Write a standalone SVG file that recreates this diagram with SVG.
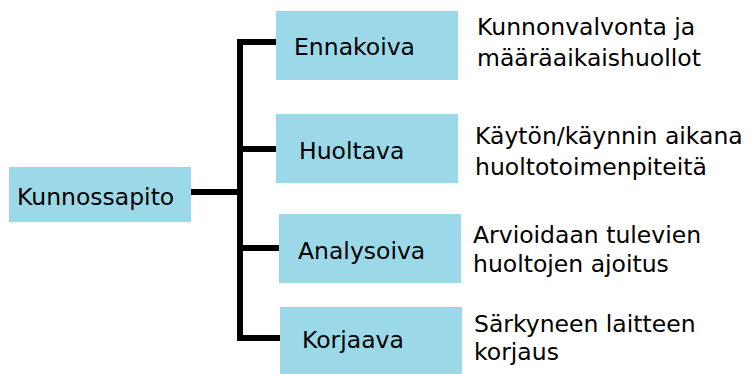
<svg xmlns="http://www.w3.org/2000/svg" width="749" height="374" viewBox="0 0 749 374">
<style>
.box{fill:#9bd9e9;}
.t{font-family:"DejaVu Sans","Liberation Sans",sans-serif;font-size:23.5px;fill:#000;}
.c{fill:none;stroke:#000;stroke-width:6;stroke-linecap:round;stroke-linejoin:miter;}
</style>
<rect width="749" height="374" fill="#fff"/>
<g id="connectors">
<path class="c" d="M191,192 H240"/>
<path class="c" d="M280,42 H240 V338 H285"/>
<path class="c" d="M240,149 H279"/>
<path class="c" d="M240,248 H282"/>
</g>
<g id="kunnossapito"><rect class="box" x="9" y="167" width="182" height="55"/><text class="t" x="17" y="205">Kunnossapito</text></g>
<g id="ennakoiva"><rect class="box" x="276" y="11" width="182" height="69"/><text class="t" x="294" y="55">Ennakoiva</text></g>
<g id="huoltava"><rect class="box" x="276" y="114" width="182" height="69"/><text class="t" x="299" y="159">Huoltava</text></g>
<g id="analysoiva"><rect class="box" x="279" y="214" width="182" height="69"/><text class="t" x="298" y="259">Analysoiva</text></g>
<g id="korjaava"><rect class="box" x="280" y="307" width="182" height="67"/><text class="t" x="302" y="348">Korjaava</text></g>
<g id="desc-ennakoiva"><text class="t" x="477" y="35">Kunnonvalvonta ja</text><text class="t" x="477" y="66">määräaikaishuollot</text></g>
<g id="desc-huoltava"><text class="t" x="475" y="144">Käytön/käynnin aikana</text><text class="t" x="475" y="175">huoltotoimenpiteitä</text></g>
<g id="desc-analysoiva"><text class="t" x="473" y="243">Arvioidaan tulevien</text><text class="t" x="473" y="272">huoltojen ajoitus</text></g>
<g id="desc-korjaava"><text class="t" x="474" y="332">Särkyneen laitteen</text><text class="t" x="474" y="360">korjaus</text></g>
</svg>
